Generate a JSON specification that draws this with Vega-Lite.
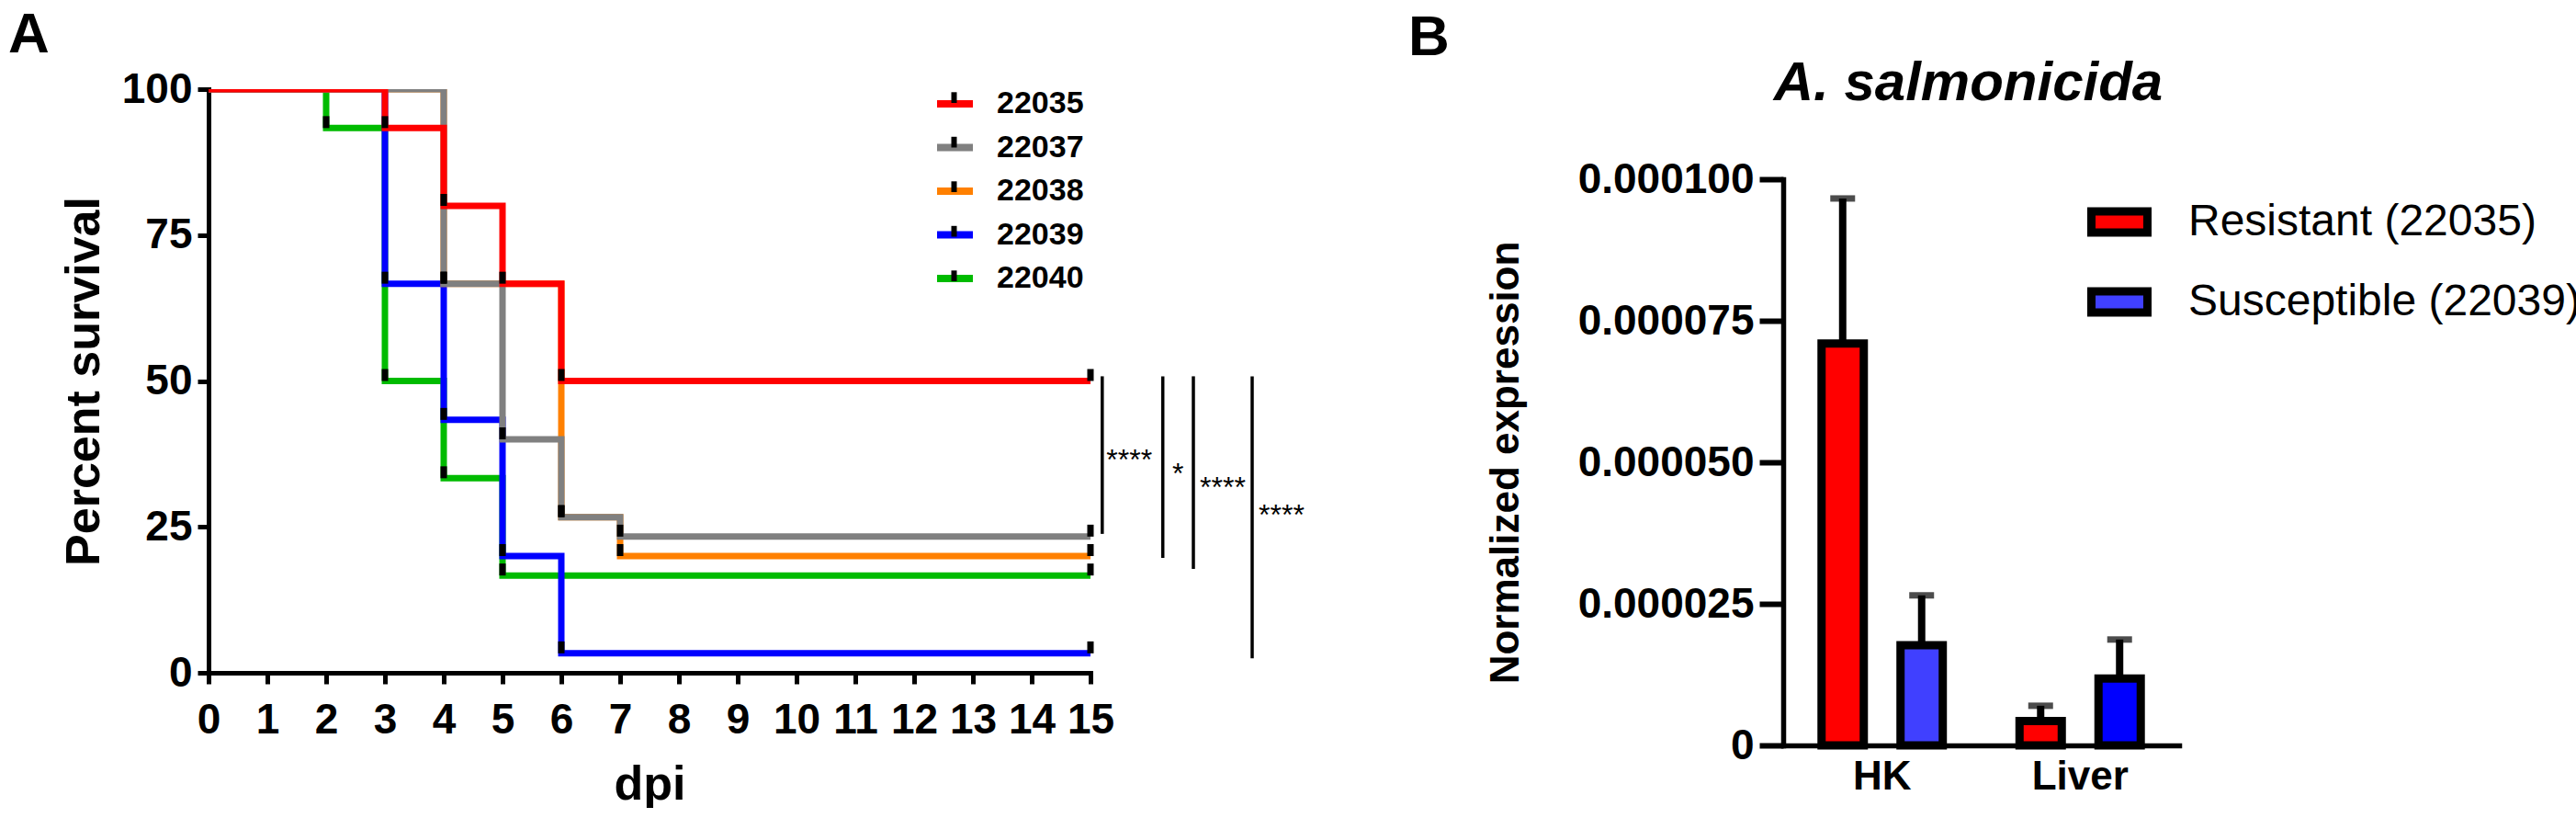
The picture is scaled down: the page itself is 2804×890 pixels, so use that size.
{
  "$schema": "https://vega.github.io/schema/vega-lite/v6.json",
  "background": "white",
  "padding": {"left": 9, "top": 7, "right": 0, "bottom": 0},
  "config": {
    "font": "Liberation Sans",
    "view": {"stroke": null},
    "axis": {
      "grid": false,
      "domainColor": "black",
      "tickColor": "black",
      "labelColor": "black",
      "titleColor": "black",
      "labelFont": "Liberation Sans",
      "titleFont": "Liberation Sans",
      "labelFontWeight": "bold",
      "titleFontWeight": "bold",
      "domainCap": "square",
      "labelLimit": 500
    },
    "legend": {"labelFont": "Liberation Sans", "labelColor": "black", "labelLimit": 800},
    "title": {"color": "black", "font": "Liberation Sans"}
  },
  "datasets": {
    "survival": [
      {"strain": "22040", "day": 0, "survival": 100},
      {"strain": "22040", "day": 2, "survival": 93.33},
      {"strain": "22040", "day": 3, "survival": 50},
      {"strain": "22040", "day": 4, "survival": 33.33},
      {"strain": "22040", "day": 5, "survival": 16.67},
      {"strain": "22040", "day": 15, "survival": 16.67},
      {"strain": "22039", "day": 0, "survival": 100},
      {"strain": "22039", "day": 3, "survival": 66.67},
      {"strain": "22039", "day": 4, "survival": 43.33},
      {"strain": "22039", "day": 5, "survival": 20},
      {"strain": "22039", "day": 6, "survival": 3.33},
      {"strain": "22039", "day": 15, "survival": 3.33},
      {"strain": "22038", "day": 0, "survival": 100},
      {"strain": "22038", "day": 4, "survival": 66.67},
      {"strain": "22038", "day": 6, "survival": 26.67},
      {"strain": "22038", "day": 7, "survival": 20},
      {"strain": "22038", "day": 15, "survival": 20},
      {"strain": "22037", "day": 0, "survival": 100},
      {"strain": "22037", "day": 4, "survival": 66.67},
      {"strain": "22037", "day": 5, "survival": 40},
      {"strain": "22037", "day": 6, "survival": 26.67},
      {"strain": "22037", "day": 7, "survival": 23.33},
      {"strain": "22037", "day": 15, "survival": 23.33},
      {"strain": "22035", "day": 0, "survival": 100},
      {"strain": "22035", "day": 3, "survival": 93.33},
      {"strain": "22035", "day": 4, "survival": 80},
      {"strain": "22035", "day": 5, "survival": 66.67},
      {"strain": "22035", "day": 6, "survival": 50},
      {"strain": "22035", "day": 15, "survival": 50}
    ],
    "sig": [
      {"comparison": "22035 vs 22037", "line_day": 15.2, "top": 50.8, "bottom": 23.8, "label_day": 15.27, "label_pos": 37.4, "stars": "****"},
      {"comparison": "22035 vs 22038", "line_day": 16.23, "top": 50.8, "bottom": 19.7, "label_day": 16.39, "label_pos": 35.0, "stars": "*"},
      {"comparison": "22035 vs 22040", "line_day": 16.75, "top": 50.8, "bottom": 17.8, "label_day": 16.86, "label_pos": 32.6, "stars": "****"},
      {"comparison": "22035 vs 22039", "line_day": 17.75, "top": 50.8, "bottom": 2.5, "label_day": 17.86, "label_pos": 27.8, "stars": "****"}
    ],
    "expr": [
      {"tissue": "HK", "strain": "Resistant (22035)", "mean": 0.0000710, "upper": 0.0000966},
      {"tissue": "HK", "strain": "Susceptible (22039)", "mean": 0.0000177, "upper": 0.0000265},
      {"tissue": "Liver", "strain": "Resistant (22035)", "mean": 0.0000043, "upper": 0.0000070},
      {"tissue": "Liver", "strain": "Susceptible (22039)", "mean": 0.0000118, "upper": 0.0000187}
    ]
  },
  "bounds": "flush",
  "spacing": 754,
  "hconcat": [
    {
      "title": {"text": "A", "anchor": "start", "frame": "group", "dx": -218, "fontSize": 62, "fontWeight": "bold", "baseline": "alphabetic", "offset": -45},
      "width": 960,
      "height": 635,
      "layer": [
        {
          "data": {"name": "survival"},
          "mark": {"type": "line", "interpolate": "step-after", "strokeWidth": 7, "clip": true, "strokeCap": "butt"},
          "encoding": {
            "x": {
              "field": "day", "type": "quantitative",
              "scale": {"domain": [0, 15], "nice": false, "zero": false},
              "axis": {
                "title": "dpi", "values": [0,1,2,3,4,5,6,7,8,9,10,11,12,13,14,15], "format": "d",
                "labelFontSize": 46, "titleFontSize": 52, "domainWidth": 5, "tickWidth": 5, "tickSize": 12,
                "labelPadding": 17, "titlePadding": 22, "labelFlush": false, "labelOverlap": false
              }
            },
            "y": {
              "field": "survival", "type": "quantitative",
              "scale": {"domain": [0, 100], "nice": false},
              "axis": {
                "title": "Percent survival", "values": [0, 25, 50, 75, 100],
                "labelFontSize": 46, "titleFontSize": 52, "domainWidth": 5, "tickWidth": 5, "tickSize": 12,
                "labelPadding": 6, "titlePadding": 14
              }
            },
            "color": {
              "field": "strain", "type": "nominal",
              "scale": {"domain": ["22035", "22037", "22038", "22039", "22040"], "range": ["#ff0000", "#808080", "#ff8000", "#0000ff", "#00bb00"]},
              "legend": {
                "title": null, "orient": "none", "legendX": 789, "legendY": -7.5, "padding": 0,
                "symbolType": "stroke", "symbolSize": 1521, "symbolStrokeWidth": 8,
                "labelFontSize": 34, "labelFontWeight": "bold", "labelOffset": 22, "rowPadding": 6.5
              }
            }
          }
        },
        {
          "data": {"name": "survival"},
          "transform": [{"filter": "datum.day > 0"}],
          "mark": {"type": "point", "filled": false, "color": "black", "strokeWidth": 7, "size": 1877, "opacity": 1},
          "encoding": {
            "x": {"field": "day", "type": "quantitative"},
            "y": {"field": "survival", "type": "quantitative"},
            "shape": {
              "field": "strain", "type": "nominal",
              "scale": {"domain": ["22040", "22039", "22038", "22037", "22035"], "range": ["M0,0V-0.6", "M0,0V-0.6", "M0,0V-0.6", "M0,0V-0.6", "M0,0V-0.6"]},
              "legend": {
                "title": null, "orient": "none", "legendX": 789, "legendY": -7.5, "padding": 0,
                "symbolSize": 1521, "symbolStrokeColor": "black", "symbolStrokeWidth": 6, "symbolFillColor": "transparent",
                "labelExpr": "''", "labelFontSize": 34, "rowPadding": 6.5
              }
            }
          }
        },
        {
          "data": {"name": "sig"},
          "mark": {"type": "rule", "strokeWidth": 3.5, "color": "black"},
          "encoding": {
            "x": {"field": "line_day", "type": "quantitative"},
            "y": {"field": "top", "type": "quantitative"},
            "y2": {"field": "bottom"}
          }
        },
        {
          "data": {"name": "sig"},
          "mark": {"type": "text", "align": "left", "baseline": "middle", "fontSize": 32, "dy": 6, "color": "black"},
          "encoding": {
            "x": {"field": "label_day", "type": "quantitative"},
            "y": {"field": "label_pos", "type": "quantitative"},
            "text": {"field": "stars"}
          }
        }
      ]
    },
    {
      "title": {"text": "B", "anchor": "start", "frame": "group", "dx": -408, "fontSize": 62, "fontWeight": "bold", "baseline": "alphabetic", "offset": -61},
      "vconcat": [
        {
          "title": {"text": "A. salmonicida", "fontSize": 60, "fontStyle": "italic", "fontWeight": "bold", "anchor": "middle", "frame": "group", "baseline": "alphabetic", "offset": -72, "dx": -14},
          "width": 431,
          "height": 714,
          "data": {"name": "expr"},
          "layer": [
            {
              "mark": {"type": "bar", "stroke": "black", "strokeWidth": 9},
              "encoding": {
                "x": {
                  "field": "tissue", "type": "nominal", "sort": ["HK", "Liver"],
                  "scale": {"paddingInner": 0, "paddingOuter": 0},
                  "axis": {"title": null, "labelAngle": 0, "ticks": false, "labelFontSize": 44, "labelPadding": 12, "domainWidth": 5.5}
                },
                "xOffset": {
                  "field": "strain", "type": "nominal", "sort": ["Resistant (22035)", "Susceptible (22039)"],
                  "scale": {"paddingInner": 0.465, "paddingOuter": 0.486}
                },
                "y": {
                  "field": "mean", "type": "quantitative",
                  "scale": {"domain": [0, 0.0001], "range": [714, 98], "nice": false},
                  "axis": {
                    "title": "Normalized expression",
                    "values": [0, 0.000025, 0.00005, 0.000075, 0.0001],
                    "labelExpr": "datum.value === 0 ? '0' : format(datum.value, '.6f')",
                    "labelFontSize": 46, "titleFontSize": 44, "domainWidth": 5.5, "tickWidth": 6, "tickSize": 26,
                    "labelPadding": 6, "titlePadding": 80
                  }
                },
                "fill": {
                  "condition": {"test": "datum.tissue === 'Liver' && datum.strain === 'Susceptible (22039)'", "value": "#0000ff"},
                  "field": "strain", "type": "nominal",
                  "scale": {"domain": ["Resistant (22035)", "Susceptible (22039)"], "range": ["#ff0000", "#4040ff"]},
                  "legend": {
                    "title": null, "orient": "none", "legendX": 2045, "legendY": 109.5, "padding": 0,
                    "symbolType": "M-1,-0.38H1V0.38H-1Z", "symbolSize": 3721, "symbolStrokeColor": "black", "symbolStrokeWidth": 9,
                    "labelFontSize": 48, "labelFontWeight": "normal", "labelOffset": 40, "rowPadding": 22
                  }
                }
              }
            },
            {
              "mark": {"type": "rule", "strokeWidth": 8, "color": "black"},
              "encoding": {
                "x": {"field": "tissue", "type": "nominal", "sort": ["HK", "Liver"]},
                "xOffset": {"field": "strain", "type": "nominal", "sort": ["Resistant (22035)", "Susceptible (22039)"]},
                "y": {"field": "mean", "type": "quantitative"},
                "y2": {"field": "upper"}
              }
            },
            {
              "mark": {"type": "tick", "orient": "horizontal", "thickness": 7, "size": 27, "color": "black"},
              "encoding": {
                "x": {"field": "tissue", "type": "nominal", "sort": ["HK", "Liver"]},
                "xOffset": {"field": "strain", "type": "nominal", "sort": ["Resistant (22035)", "Susceptible (22039)"]},
                "y": {"field": "upper", "type": "quantitative"}
              }
            }
          ]
        }
      ]
    }
  ]
}
